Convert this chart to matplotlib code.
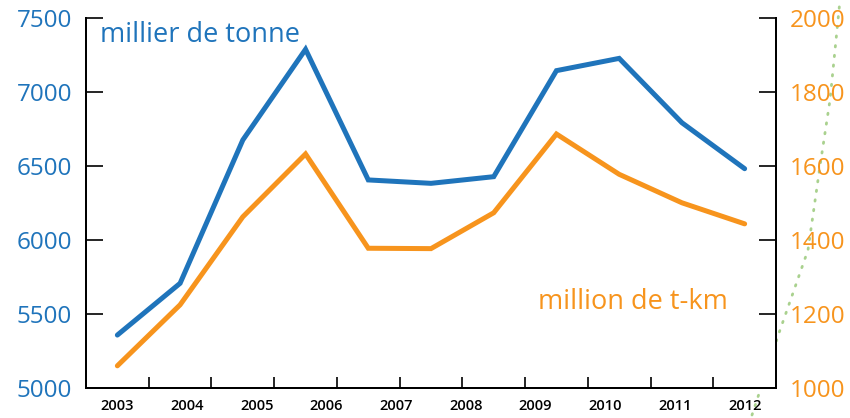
import numpy as np
import matplotlib
matplotlib.use('Agg')
import matplotlib.pyplot as plt
from matplotlib.lines import Line2D

BLUE = '#1f74bb'
ORANGE = '#f7941d'

plt.rcParams['font.family'] = ['Open Sans', 'DejaVu Sans']

# data (11 points, 10 year labels spread across them)
years = ['2003', '2004', '2005', '2006', '2007', '2008', '2009', '2010', '2011', '2012']
tonnes = [5358, 5708, 6677, 7290, 6407, 6384, 6429, 7146, 7229, 6794, 6483]
tkm = [1060, 1225, 1463, 1633, 1378, 1377, 1474, 1687, 1578, 1501, 1444]
left_ticks = [5000, 5500, 6000, 6500, 7000, 7500]
right_ticks = [1000, 1200, 1400, 1600, 1800, 2000]

fig = plt.figure(figsize=(8.5, 4.18), dpi=100)
ax = fig.add_axes([86/850, 1-388/418, 690/850, (388-18.3)/418])
ax2 = ax.twinx()

x = np.arange(len(tonnes))
ax.plot(x, tonnes, color=BLUE, lw=3.6, solid_capstyle='round', solid_joinstyle='miter', zorder=3)
ax2.plot(x, tkm, color=ORANGE, lw=3.6, solid_capstyle='round', solid_joinstyle='miter', zorder=3)

ax.set_xlim(-0.5, len(tonnes) - 0.5)
ax.set_ylim(5000, 7500)
ax2.set_ylim(1000, 2000)

# tick marks between points, labels evenly spread from first to last point
ax.set_xticks(np.arange(0.5, len(tonnes) - 1))
ax.set_xticklabels([])
ax.set_xticks(np.linspace(0, len(tonnes) - 1, len(years)), minor=True)
ax.set_xticklabels(years, minor=True, fontsize=10.5, fontweight='semibold')
ax.tick_params(axis='x', which='major', direction='in', length=8, width=1.2, color='black')
ax.tick_params(axis='x', which='minor', length=0, pad=8, labelcolor='black')

ax.set_yticks(left_ticks)
ax.set_yticklabels([str(v) for v in left_ticks], fontsize=17.5, color=BLUE)
ax.tick_params(axis='y', direction='in', length=12, width=1.2, pad=10)
ax2.set_yticks(right_ticks)
ax2.set_yticklabels([str(v) for v in right_ticks], fontsize=17.5, color=ORANGE)
ax2.tick_params(axis='y', direction='in', length=12, width=1.2, pad=10)

for a in (ax, ax2):
    a.spines['top'].set_visible(False)
    for s in ('left', 'right', 'bottom'):
        a.spines[s].set_linewidth(1.4)

ax.text(0.02, 0.955, 'millier de tonne', transform=ax.transAxes, color=BLUE,
        fontsize=19.5, va='center', ha='left')
ax2.text(0.655, 0.232, 'million de t-km', transform=ax.transAxes, color=ORANGE,
         fontsize=19.5, va='center', ha='left')

# decorative dotted green curve at right edge
gx = np.array([752, 779, 808, 820, 830, 840]) / 850
gy = 1 - np.array([415, 333, 250, 166, 100, 0]) / 418
fig.add_artist(Line2D(gx, gy, transform=fig.transFigure, color='#a9d18e',
                      lw=2, ls=(0, (0.5, 3)), dash_capstyle='round', zorder=0))

fig.savefig('out.png', dpi=100)
